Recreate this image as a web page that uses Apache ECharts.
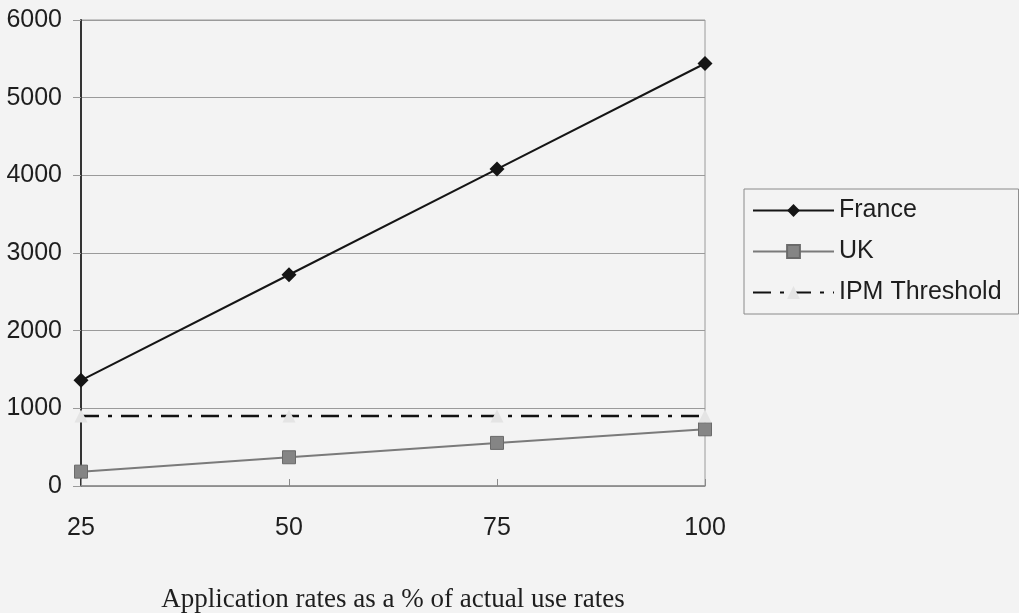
<!DOCTYPE html>
<html>
<head>
<meta charset="utf-8">
<style>
  html, body { margin: 0; padding: 0; background: #f3f3f3; }
  #chart { width: 1019px; height: 613px; }
</style>
<script src="https://cdn.jsdelivr.net/npm/echarts@6/dist/echarts.min.js"></script>
</head>
<body>
<div id="chart"></div>
<script>
// Application rate categories (% of actual use rates)
const categories = ['25', '50', '75', '100'];
// Series values
const france = [1360, 2720, 4080, 5440];
const uk = [185, 370, 555, 730];
const ipmThreshold = [900, 900, 900, 900];
// Value axis ticks
const yTicks = [0, 1000, 2000, 3000, 4000, 5000, 6000];
const xTitle = 'Application rates as a % of actual use rates';

const sans = 'Liberation Sans, Arial, sans-serif';
const chart = echarts.init(document.getElementById('chart'));

chart.setOption({
  backgroundColor: '#f3f3f3',
  animation: false,
  grid: {
    left: 81, right: 314, top: 20, bottom: 127,
    containLabel: false,
    outerBoundsMode: 'none',
    show: true, borderColor: '#9a9a9a', borderWidth: 1,
    backgroundColor: 'transparent'
  },
  legend: {
    orient: 'vertical',
    left: 744, top: 189,
    padding: [9, 17, 9, 8],
    itemWidth: 81, itemHeight: 16, itemGap: 16,
    itemTextGap: 5,
    backgroundColor: 'transparent',
    borderColor: '#8a8a8a', borderWidth: 1,
    textStyle: { fontFamily: sans, fontSize: 25, color: '#1e1e1e', lineHeight: 24 },
    data: ['France', 'UK', 'IPM Threshold']
  },
  xAxis: {
    type: 'category',
    data: categories,
    boundaryGap: false,
    axisLine: { lineStyle: { color: '#8a8a8a', width: 1.5 } },
    axisTick: { inside: true, length: 7, lineStyle: { color: '#8a8a8a' } },
    axisLabel: { fontFamily: sans, fontSize: 25, color: '#1e1e1e', margin: 30 },
    splitLine: { show: false },
    name: xTitle,
    nameLocation: 'middle',
    nameGap: 100,
    nameTextStyle: { fontFamily: 'Liberation Serif, Times New Roman, serif', fontSize: 27, color: '#1e1e1e' }
  },
  yAxis: {
    type: 'value',
    min: yTicks[0], max: yTicks[yTicks.length - 1], interval: 1000,
    axisLine: { show: true, lineStyle: { color: '#333', width: 2 } },
    axisTick: { show: true, length: 8, lineStyle: { color: '#9a9a9a' } },
    axisLabel: {
      fontFamily: sans, fontSize: 25, color: '#1e1e1e', margin: 19,
      formatter: v => String(v)
    },
    splitLine: { lineStyle: { color: '#9a9a9a', width: 1 } }
  },
  series: [
    {
      name: 'France', type: 'line', data: france,
      symbol: 'diamond', symbolSize: 15,
      lineStyle: { color: '#151515', width: 2 },
      itemStyle: { color: '#151515' },
      z: 5
    },
    {
      name: 'UK', type: 'line', data: uk,
      symbol: 'rect', symbolSize: 13,
      lineStyle: { color: '#7a7a7a', width: 2 },
      itemStyle: { color: '#858585', borderColor: '#6a6a6a', borderWidth: 1 },
      z: 4
    },
    {
      name: 'IPM Threshold', type: 'line', data: ipmThreshold,
      symbol: 'triangle', symbolSize: 13,
      lineStyle: { color: '#111', width: 2.5, type: [18, 9, 4, 9] },
      itemStyle: { color: '#e4e4e4' },
      z: 6
    }
  ]
});
</script>
</body>
</html>
